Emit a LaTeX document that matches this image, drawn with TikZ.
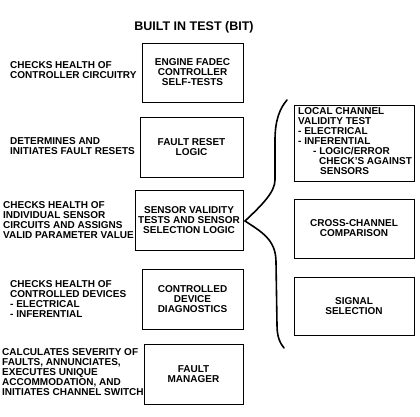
\documentclass[tikz,border=0pt]{standalone}
\usepackage{fontspec}
\setmainfont{Liberation Sans}
\begin{document}
\begin{tikzpicture}[x=1pt,y=-1pt,
  txt/.style={font=\bfseries\fontsize{10}{10}\selectfont},
  box/.style={draw, line width=0.9pt, inner sep=0pt, txt, align=center},
  lbl/.style={txt, align=left, anchor=west, inner sep=0pt},
  brace/.style={line width=1.6pt, line cap=round, line join=miter}]
\useasboundingbox (0,0) rectangle (420,416);
\node[font=\bfseries\fontsize{12.5}{14}\selectfont] (title) at (194,27) {BUILT IN TEST (BIT)};
% centre boxes
\node[box, minimum width=101pt, minimum height=59pt] (b1) at (192.5,72.5) {ENGINE FADEC\\CONTROLLER\\SELF-TESTS};
\node[box, minimum width=103pt, minimum height=60pt] (b2) at (191.5,147) {FAULT RESET\\LOGIC};
\node[box, minimum width=108pt, minimum height=60pt] (b3) at (189,220) {SENSOR VALIDITY\\TESTS AND SENSOR\\SELECTION LOGIC};
\node[box, minimum width=101pt, minimum height=60pt] (b4) at (192.5,299) {CONTROLLED\\DEVICE\\DIAGNOSTICS};
\node[box, minimum width=99pt, minimum height=60pt] (b5) at (193.5,374) {FAULT\\MANAGER};
% right boxes
\node[box, minimum width=120pt, minimum height=76pt] (r1) at (354,143) {};
\node[txt, align=left, anchor=north west, inner sep=0pt] (r1t) at (298,107.5) {LOCAL CHANNEL\\VALIDITY TEST\\- ELECTRICAL\\- INFERENTIAL\\\hspace*{15pt}- LOGIC/ERROR\\\hspace*{21pt}CHECK'S AGAINST\\\hspace*{22pt}SENSORS};
\node[box, minimum width=120pt, minimum height=59pt] (r2) at (354,228.5) {CROSS-CHANNEL\\COMPARISON};
\node[box, minimum width=120pt, minimum height=58pt] (r3) at (354,306) {SIGNAL\\SELECTION};
% left labels
\node[lbl] (l1) at (10,70) {CHECKS HEALTH OF\\CONTROLLER CIRCUITRY};
\node[lbl] (l2) at (10,146) {DETERMINES AND\\INITIATES FAULT RESETS};
\node[lbl] (l3) at (3,220) {CHECKS HEALTH OF\\INDIVIDUAL SENSOR\\CIRCUITS AND ASSIGNS\\VALID PARAMETER VALUE};
\node[lbl] (l4) at (10,299) {CHECKS HEALTH OF\\CONTROLLED DEVICES\\- ELECTRICAL\\- INFERENTIAL};
\node[lbl] (l5) at (2,372) {CALCULATES SEVERITY OF\\FAULTS, ANNUNCIATES,\\EXECUTES UNIQUE\\ACCOMMODATION, AND\\INITIATES CHANNEL SWITCH};
% brace
\draw[brace] (287,100) .. controls (280,108) and (275,120) .. (275,140) -- (275,180)
  .. controls (275,192) and (262,205) .. (245,221)
  .. controls (262,232) and (276,240) .. (276,262) -- (277,325)
  .. controls (277,337) and (280,343) .. (284,348);
\end{tikzpicture}
\end{document}
